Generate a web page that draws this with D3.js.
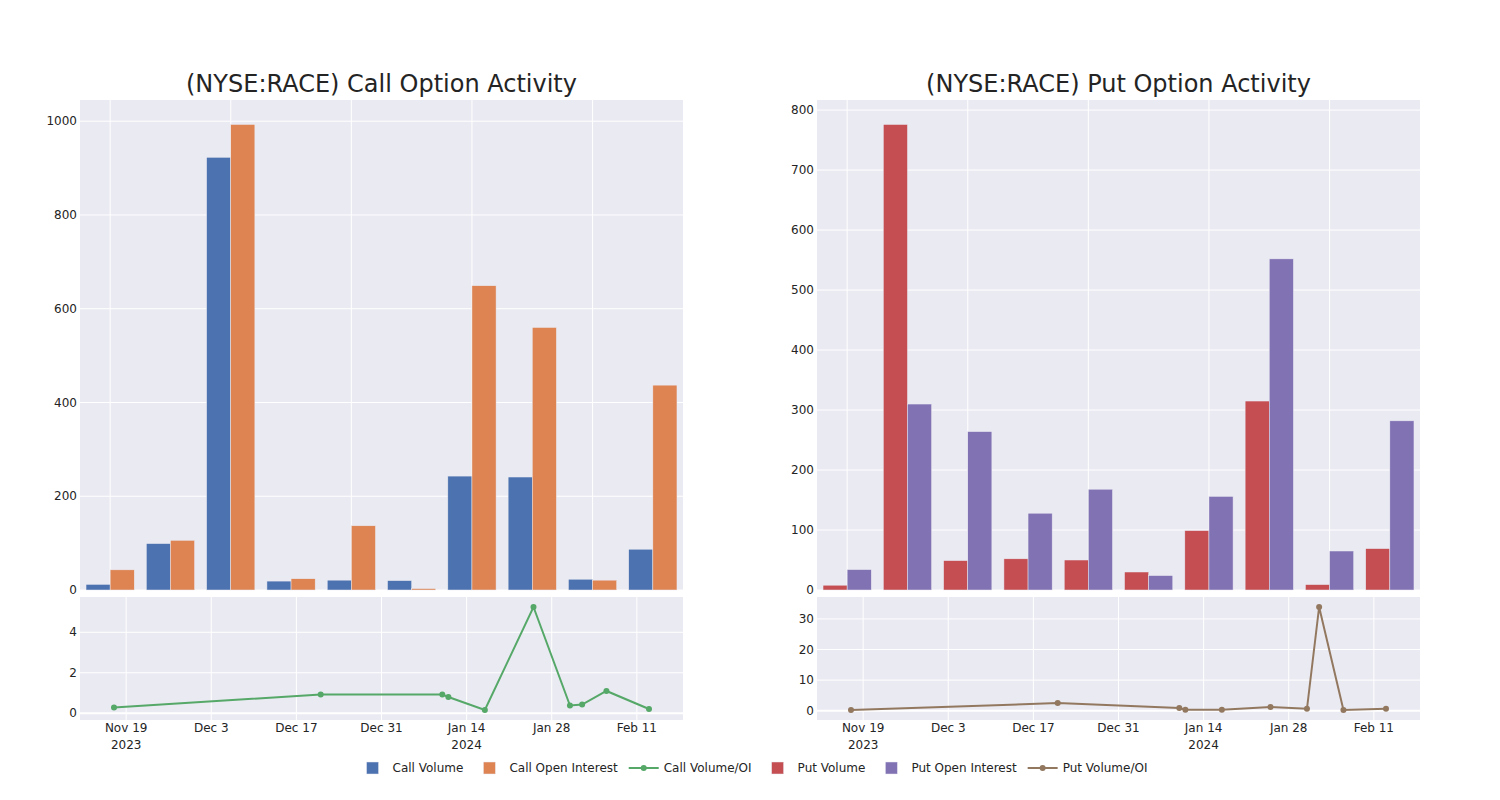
<!DOCTYPE html>
<html>
<head>
<meta charset="utf-8">
<script src="https://cdn.jsdelivr.net/npm/d3@7"></script>
<style>
  body { margin: 0; background: #fff; }
  text { font-family: "DejaVu Sans", sans-serif; fill: #242424; }
</style>
</head>
<body>
<div id="chart"></div>
<script>
        // trade dates (one bar group / one line point each)
        var dates = ["2023-11-17", "2023-12-21", "2024-01-10", "2024-01-11", "2024-01-17",
                     "2024-01-25", "2024-01-31", "2024-02-02", "2024-02-06", "2024-02-13"];

        // calls
        var callVolume = [12, 99, 923, 19, 21, 20, 243, 241, 23, 87];
        var callOpenInterest = [43, 106, 993, 24, 137, 3, 649, 560, 21, 437];
        var callRatio = [0.28, 0.93, 0.93, 0.8, 0.16, 5.25, 0.38, 0.43, 1.1, 0.21];

        // puts
        var putVolume = [8, 776, 49, 52, 50, 30, 99, 315, 9, 69];
        var putOpenInterest = [34, 310, 264, 128, 168, 24, 156, 552, 65, 282];
        var putRatio = [0.24, 2.5, 0.9, 0.3, 0.3, 1.25, 0.64, 33.9, 0.25, 0.62];

        // tick labels
        var callBarTicks = [0, 200, 400, 600, 800, 1000];
        var putBarTicks = [0, 100, 200, 300, 400, 500, 600, 700, 800];
        var callLineTicks = [0, 2, 4];
        var putLineTicks = [0, 10, 20, 30];
        var dateTicks = ["2023-11-19", "2023-12-03", "2023-12-17", "2023-12-31",
                         "2024-01-14", "2024-01-28", "2024-02-11"];

        var width = 1500, height = 800;
        var bg = "#EAEAF2";

        var parse = d3.timeParse("%Y-%m-%d");
        var fmt = d3.timeFormat("%b %-d");

        var svg = d3.select("#chart")
                    .append("svg")
                    .attr("width", width)
                    .attr("height", height);

        function drawPanel(o) {
            var x0 = o.left, x1 = o.right;
            var barTop = 100, barBottom = 590;
            var lineTop = 597, lineBottom = 720;

            var g = svg.append("g");

            // title
            g.append("text")
             .attr("x", (x0 + x1) / 2)
             .attr("y", 92)
             .attr("text-anchor", "middle")
             .style("font-size", "24px")
             .text(o.title);

            // ----- bar chart -----
            g.append("rect")
             .attr("x", x0).attr("y", barTop)
             .attr("width", x1 - x0).attr("height", barBottom - barTop)
             .attr("fill", bg);

            var xBand = d3.scaleBand()
                          .domain(dates)
                          .range([x0, x1])
                          .paddingInner(0.2)
                          .paddingOuter(0.1);
            var xSub = d3.scaleBand()
                         .domain([0, 1])
                         .range([0, xBand.bandwidth()]);

            var yMax = d3.max(o.volume.concat(o.oi)) * 1.0526;
            var yBar = d3.scaleLinear().domain([0, yMax]).range([barBottom, barTop]);

            // grid
            g.selectAll(".vgrid")
             .data(dates.filter(function(d, i) { return i % 2 === 0; }))
             .enter().append("line")
             .attr("x1", function(d) { return xBand(d) + xBand.bandwidth() / 2; })
             .attr("x2", function(d) { return xBand(d) + xBand.bandwidth() / 2; })
             .attr("y1", barTop).attr("y2", barBottom)
             .attr("stroke", "#fff").attr("stroke-width", 1);

            g.selectAll(".hgrid")
             .data(o.barTicks)
             .enter().append("line")
             .attr("x1", x0).attr("x2", x1)
             .attr("y1", function(d) { return yBar(d); })
             .attr("y2", function(d) { return yBar(d); })
             .attr("stroke", "#fff").attr("stroke-width", 1);

            g.selectAll(".ybarlab")
             .data(o.barTicks)
             .enter().append("text")
             .attr("x", x0 - 3)
             .attr("y", function(d) { return yBar(d); })
             .attr("dy", "0.35em")
             .attr("text-anchor", "end")
             .style("font-size", "12px")
             .text(function(d) { return d; });

            var groups = g.selectAll(".grp")
                          .data(dates)
                          .enter().append("g")
                          .attr("transform", function(d) { return "translate(" + xBand(d) + ",0)"; });

            groups.selectAll("rect")
                  .data(function(d, i) { return [o.volume[i], o.oi[i]]; })
                  .enter().append("rect")
                  .attr("x", function(d, j) { return xSub(j); })
                  .attr("y", function(d) { return yBar(d); })
                  .attr("width", xSub.bandwidth())
                  .attr("height", function(d) { return barBottom - yBar(d); })
                  .attr("fill", function(d, j) { return o.colors[j]; })
                  .attr("stroke", bg)
                  .attr("stroke-width", 0.5);

            // ----- ratio line -----
            g.append("rect")
             .attr("x", x0).attr("y", lineTop)
             .attr("width", x1 - x0).attr("height", lineBottom - lineTop)
             .attr("fill", bg);

            var parsed = dates.map(parse);
            var padX = 34, padY = 10;
            var tExt = d3.extent(parsed);
            var msPerPx = (tExt[1] - tExt[0]) / (x1 - x0 - 2 * padX);
            var xTime = d3.scaleTime()
                          .domain([new Date(+tExt[0] - padX * msPerPx), new Date(+tExt[1] + padX * msPerPx)])
                          .range([x0, x1]);

            var vExt = d3.extent(o.ratio);
            var perPx = (vExt[1] - vExt[0]) / (lineBottom - lineTop - 2 * padY);
            var yLine = d3.scaleLinear()
                          .domain([vExt[0] - padY * perPx, vExt[1] + padY * perPx])
                          .range([lineBottom, lineTop]);

            var tickD = dateTicks.map(parse);

            g.selectAll(".lvgrid")
             .data(tickD)
             .enter().append("line")
             .attr("x1", function(d) { return xTime(d); })
             .attr("x2", function(d) { return xTime(d); })
             .attr("y1", lineTop).attr("y2", lineBottom)
             .attr("stroke", "#fff").attr("stroke-width", 1);

            g.selectAll(".lhgrid")
             .data(o.lineTicks)
             .enter().append("line")
             .attr("x1", x0).attr("x2", x1)
             .attr("y1", function(d) { return yLine(d); })
             .attr("y2", function(d) { return yLine(d); })
             .attr("stroke", "#fff").attr("stroke-width", function(d) { return d === 0 ? 2 : 1; });

            g.selectAll(".ylinelab")
             .data(o.lineTicks)
             .enter().append("text")
             .attr("x", x0 - 3)
             .attr("y", function(d) { return yLine(d); })
             .attr("dy", "0.35em")
             .attr("text-anchor", "end")
             .style("font-size", "12px")
             .text(function(d) { return d; });

            var xl = g.selectAll(".xlab")
                      .data(tickD)
                      .enter().append("text")
                      .attr("text-anchor", "middle")
                      .style("font-size", "12px");
            xl.append("tspan")
              .attr("x", function(d) { return xTime(d); })
              .attr("y", 732)
              .text(function(d) { return fmt(d); });
            xl.append("tspan")
              .attr("x", function(d) { return xTime(d); })
              .attr("y", 749)
              .text(function(d, i) {
                  if (i === 0 || d.getFullYear() !== tickD[i - 1].getFullYear()) return d.getFullYear();
                  return "";
              });

            var line = d3.line()
                         .x(function(d, i) { return xTime(parsed[i]); })
                         .y(function(d) { return yLine(d); });

            g.append("path")
             .datum(o.ratio)
             .attr("d", line)
             .attr("fill", "none")
             .attr("stroke", o.colors[2])
             .attr("stroke-width", 2);

            g.selectAll(".pt")
             .data(o.ratio)
             .enter().append("circle")
             .attr("cx", function(d, i) { return xTime(parsed[i]); })
             .attr("cy", function(d) { return yLine(d); })
             .attr("r", 3)
             .attr("fill", o.colors[2]);
        }

        drawPanel({
            left: 80, right: 683,
            title: "(NYSE:RACE) Call Option Activity",
            volume: callVolume, oi: callOpenInterest, ratio: callRatio,
            colors: ["#4C72B0", "#DD8452", "#55A868"],
            barTicks: callBarTicks, lineTicks: callLineTicks
        });

        drawPanel({
            left: 817, right: 1420,
            title: "(NYSE:RACE) Put Option Activity",
            volume: putVolume, oi: putOpenInterest, ratio: putRatio,
            colors: ["#C44E52", "#8172B3", "#937860"],
            barTicks: putBarTicks, lineTicks: putLineTicks
        });

        // legend
        var legendItems = [
            { name: "Call Volume", color: "#4C72B0", type: "bar" },
            { name: "Call Open Interest", color: "#DD8452", type: "bar" },
            { name: "Call Volume/OI", color: "#55A868", type: "line" },
            { name: "Put Volume", color: "#C44E52", type: "bar" },
            { name: "Put Open Interest", color: "#8172B3", type: "bar" },
            { name: "Put Volume/OI", color: "#937860", type: "line" }
        ];

        var legend = svg.append("g");
        var ly = 768, cursor = 0;
        legendItems.forEach(function(item) {
            var it = legend.append("g").attr("transform", "translate(" + cursor + "," + ly + ")");
            if (item.type === "bar") {
                it.append("rect")
                  .attr("x", 14).attr("y", -6)
                  .attr("width", 12).attr("height", 12)
                  .attr("fill", item.color)
                  .attr("stroke", bg).attr("stroke-width", 0.5);
            } else {
                it.append("line")
                  .attr("x1", 5).attr("x2", 35)
                  .attr("stroke", item.color).attr("stroke-width", 2);
                it.append("circle")
                  .attr("cx", 20).attr("r", 3)
                  .attr("fill", item.color);
            }
            var t = it.append("text")
                      .attr("x", 40)
                      .attr("dy", "0.35em")
                      .style("font-size", "12px")
                      .text(item.name);
            cursor += 40 + t.node().getComputedTextLength() + 6;
        });
        legend.attr("transform", "translate(" + (width / 2 - (cursor - 6) / 2) + ",0)");
</script>
</body>
</html>
